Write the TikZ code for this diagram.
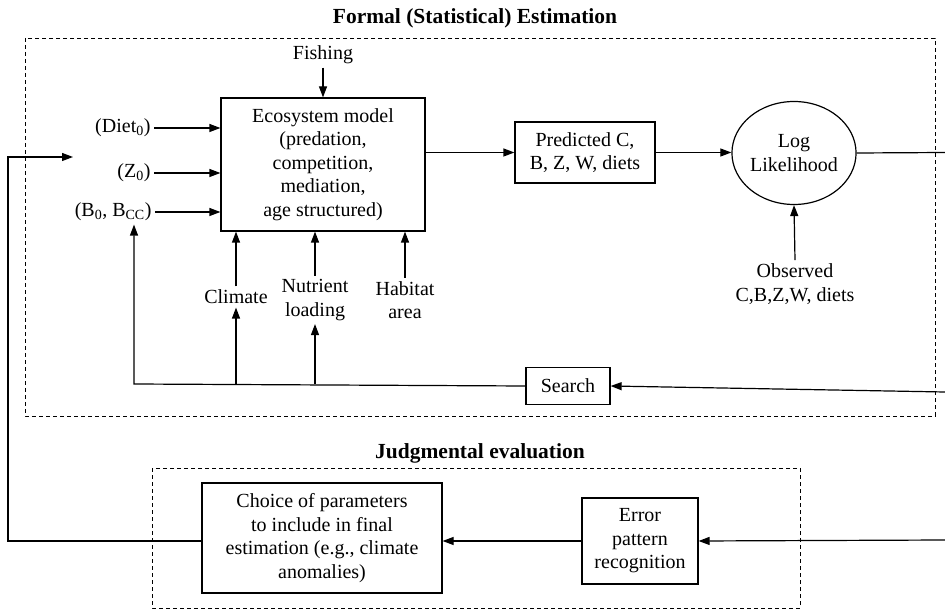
\documentclass[tikz,border=0pt]{standalone}
\usepackage{fontspec}
\setmainfont{Liberation Serif}
\usetikzlibrary{arrows.meta,shapes.geometric}

\begin{document}
\begin{tikzpicture}[x=1pt, y=-1pt,
	every node/.style={font=\fontsize{20}{23.5}\selectfont, align=center},
	box/.style={draw, line width=1.2pt, inner sep=0pt},
	arr/.style={line width=1.2pt, -{Triangle[length=11pt,width=8pt]}},
	ln/.style={line width=1.2pt},
	region/.style={draw, line width=0.9pt, dash pattern=on 4pt off 3pt},
	head/.style={font=\fontsize{21.5}{24}\selectfont\bfseries}]
	\useasboundingbox (0,0) rectangle (945,609);

	% Formal estimation
	\draw[region] (25,38) rectangle (935,416);
	\node[head] (formal) at (475,18) {Formal (Statistical) Estimation};

	\node[box, minimum width=204pt, minimum height=133pt] (eco) at (323,164.5)
		{Ecosystem model\\(predation,\\competition,\\mediation,\\age structured)};
	\node (fishing) at (323,55) {Fishing};
	\node[anchor=east] (diet) at (154,128) {(Diet\textsubscript{0})};
	\node[anchor=east] (zinit) at (154,173) {(Z\textsubscript{0})};
	\node[anchor=east] (binit) at (155,212) {(B\textsubscript{0}, B\textsubscript{CC})};
	\node (climate) at (236,297) {Climate};
	\node (nutrient) at (315,300) {Nutrient\\loading};
	\node (habitat) at (405,300) {Habitat\\area};

	\node[box, minimum width=140pt, minimum height=61pt] (pred) at (585,152.5) {Predicted C,\\B, Z, W, diets};
	\node[draw, ellipse, line width=1.2pt, inner sep=0pt, minimum width=120pt, minimum height=103pt] (loglik) at (794,153) {Log\\Likelihood};
	\node (observed) at (795,284) {Observed\\C,B,Z,W, diets};
	\node[box, minimum width=84pt, minimum height=37pt] (search) at (568,386) {Search};

	\coordinate (fbin) at (73,157);
	\coordinate (srchL) at (134,384);
	\coordinate (edgeA) at (945,152.5);
	\coordinate (edgeB) at (945,392);

	\draw[arr] (fishing) -- (eco);
	\draw[arr] (diet.east) -- (diet.east -| eco.west);
	\draw[arr] (zinit.east) -- (zinit.east -| eco.west);
	\draw[arr] (binit.east) -- (binit.east -| eco.west);
	\draw[arr] (climate.north) -- (climate.north |- eco.south);
	\draw[arr] (nutrient.north) -- (nutrient.north |- eco.south);
	\draw[arr] (habitat.north) -- (habitat.north |- eco.south);
	\draw[arr] (eco.east |- pred.west) -- (pred.west);
	\draw[arr] (pred.east) -- (pred.east -| loglik.west);
	\draw[ln] (loglik.east) -- (edgeA);
	\draw[arr] (observed.north) -- (loglik.south);

	% search loop
	\draw[arr] (edgeB) -- (search.east);
	\draw[arr] (search.west) -- (srchL) -- (srchL |- binit.south);
	\draw[arr] (climate.south |- srchL) -- (climate.south);
	\draw[arr] (nutrient.south |- srchL) -- (nutrient.south);

	% Judgmental evaluation
	\draw[region] (152,468) rectangle (800,608);
	\node[head] (judg) at (480,453) {Judgmental evaluation};

	\node[box, minimum width=240pt, minimum height=110pt] (choice) at (322,538)
		{Choice of parameters\\to include in final\\estimation (e.g., climate\\anomalies)};
	\node[box, minimum width=116pt, minimum height=86pt] (err) at (640,541) {Error\\pattern\\recognition};

	\coordinate (edgeC) at (945,540);
	\coordinate (fbcorner) at (8,541);

	\draw[arr] (edgeC) -- (err.east);
	\draw[arr] (err.west) -- (err.west -| choice.east);
	\draw[arr] (choice.west |- err.west) -- (fbcorner) |- (fbin);
\end{tikzpicture}
\end{document}
